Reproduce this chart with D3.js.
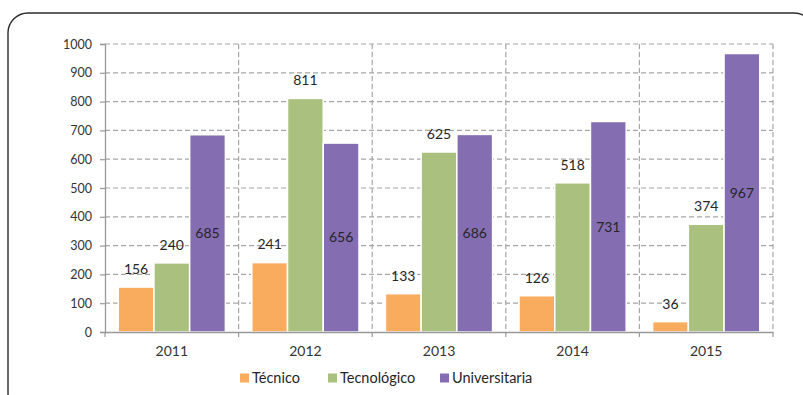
<!DOCTYPE html>
<html>
<head>
<meta charset="utf-8">
<script src="https://cdn.jsdelivr.net/npm/d3@7"></script>
<style>
  html, body { margin: 0; padding: 0; background: #fff; }
  svg { display: block; }
  text { font-family: Lato, "Open Sans", sans-serif; fill: #333; }
</style>
</head>
<body>
<svg id="chart" width="803" height="395"></svg>
<script>
// Graduates by year and level of education
const years = ["2011", "2012", "2013", "2014", "2015"];
const seriesNames = ["Técnico", "Tecnológico", "Universitaria"];
const tecnico = [156, 241, 133, 126, 36];
const tecnologico = [240, 811, 625, 518, 374];
const universitaria = [685, 656, 686, 731, 967];
const yTicks = [0, 100, 200, 300, 400, 500, 600, 700, 800, 900, 1000];
const colors = ["#f9ac5e", "#a9c07f", "#846db1"];

const seriesValues = [tecnico, tecnologico, universitaria];
const rows = years.map((yr, i) => ({
  year: yr,
  values: seriesNames.map((s, k) => ({ series: s, k, value: seriesValues[k][i] }))
}));

const svg = d3.select("#chart");

// rounded frame
svg.append("rect")
  .attr("x", 8).attr("y", 13)
  .attr("width", 806).attr("height", 400)
  .attr("rx", 20).attr("ry", 20)
  .attr("fill", "#fff")
  .attr("stroke", "#2b2b2b")
  .attr("stroke-width", 1.4);

const plotLeft = 105, plotRight = 773, plotTop = 44, plotBottom = 332;

const x0 = d3.scaleBand().domain(years).range([plotLeft, plotRight]).padding(0);
const x1 = d3.scaleBand().domain(seriesNames).range([0, x0.bandwidth()])
  .paddingInner(0).paddingOuter(0.37);
const y = d3.scaleLinear().domain([0, 1000]).range([plotBottom, plotTop]);

const gridColor = "#a6a6a6";

// horizontal dashed gridlines
svg.append("g").selectAll("line")
  .data(yTicks.filter(t => t > 0))
  .join("line")
  .attr("x1", plotLeft).attr("x2", plotRight)
  .attr("y1", d => y(d)).attr("y2", d => y(d))
  .attr("stroke", gridColor).attr("stroke-width", 1.2)
  .attr("stroke-dasharray", "5,3");

// vertical dashed gridlines at category boundaries
const bounds = years.map(d => x0(d) + x0.bandwidth());
svg.append("g").selectAll("line")
  .data(bounds)
  .join("line")
  .attr("x1", d => d).attr("x2", d => d)
  .attr("y1", plotTop).attr("y2", plotBottom)
  .attr("stroke", gridColor).attr("stroke-width", 1.2)
  .attr("stroke-dasharray", "5,3");

// bars
const groups = svg.append("g").selectAll("g")
  .data(rows)
  .join("g")
  .attr("transform", d => `translate(${x0(d.year)},0)`);

groups.selectAll("rect")
  .data(d => d.values)
  .join("rect")
  .attr("x", d => x1(d.series))
  .attr("width", x1.bandwidth())
  .attr("y", d => y(d.value))
  .attr("height", d => y(0) - y(d.value))
  .attr("fill", d => colors[d.k])
  .attr("stroke", "#fff")
  .attr("stroke-width", 1.5);

// value labels: above the bar for the first two series, centred inside for the third
groups.selectAll("text")
  .data(d => d.values)
  .join("text")
  .attr("x", d => x1(d.series) + x1.bandwidth() / 2)
  .attr("y", d => d.k === 2 ? (y(d.value) + y(0)) / 2 : y(d.value) - 18)
  .attr("dy", "0.35em")
  .attr("text-anchor", "middle")
  .attr("font-size", 14)
  .style("fill", "#262626")
  .text(d => d.value);

// y axis
const yAxis = d3.axisLeft(y).tickValues(yTicks).tickFormat(d3.format("d"))
  .tickSizeOuter(0).tickSize(5).tickPadding(8);
const gy = svg.append("g").attr("transform", `translate(${plotLeft},0)`).call(yAxis);
gy.select(".domain").attr("stroke", "#999").attr("stroke-width", 1.3);
gy.selectAll(".tick line").attr("stroke", "#999").attr("stroke-width", 1.2);
gy.selectAll(".tick text").attr("font-size", 12.5).attr("font-family", null).style("fill", "#333");

// x axis with ticks at category boundaries
const gx = svg.append("g").attr("transform", `translate(0,${plotBottom})`)
  .call(d3.axisBottom(x0).tickSize(0).tickSizeOuter(0).tickPadding(14));
gx.select(".domain").attr("stroke", "#999").attr("stroke-width", 1.3);
gx.selectAll(".tick text").attr("font-size", 14).attr("font-family", null).style("fill", "#333");
gx.append("g").selectAll("line")
  .data([plotLeft].concat(bounds))
  .join("line")
  .attr("x1", d => d).attr("x2", d => d)
  .attr("y1", 0).attr("y2", 5)
  .attr("stroke", "#999").attr("stroke-width", 1.2);

// legend
const legendX = [240, 328, 440];
const legend = svg.append("g").selectAll("g")
  .data(seriesNames)
  .join("g")
  .attr("transform", (d, i) => `translate(${legendX[i]},378)`);
legend.append("rect")
  .attr("x", 0).attr("y", -4.5)
  .attr("width", 9).attr("height", 9)
  .attr("fill", (d, i) => colors[i]);
legend.append("text")
  .attr("x", 12).attr("dy", "0.35em")
  .attr("font-size", 14.5)
  .style("fill", "#262626")
  .text(d => d);
</script>
</body>
</html>
